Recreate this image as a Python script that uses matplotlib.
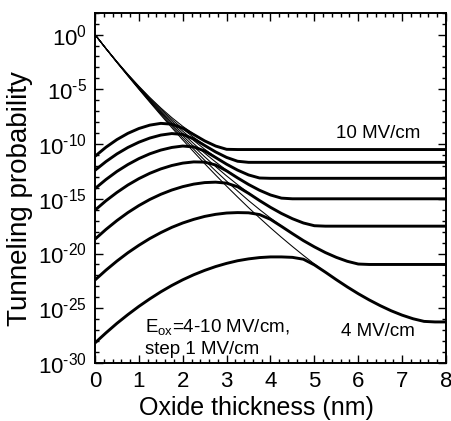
import numpy as np
import matplotlib
matplotlib.use('Agg')
import matplotlib.pyplot as plt
from matplotlib.ticker import FixedLocator, FuncFormatter, MultipleLocator

plt.rcParams['font.family'] = ['Liberation Sans', 'DejaVu Sans']
plt.rcParams['mathtext.fontset'] = 'custom'
plt.rcParams['mathtext.rm'] = 'Liberation Sans'
plt.rcParams['mathtext.it'] = 'Liberation Sans:italic'
plt.rcParams['mathtext.default'] = 'regular'

# Oxide thickness, nm (0 to 8 in 0.25 nm steps)
thickness = np.linspace(0, 8, 33)

# log10 of the tunneling probability, thick curves (full barrier)
logT_4 = [-28.17, -27.25, -26.38, -25.58, -24.83, -24.14, -23.50, -22.92, -22.40, -21.94,
          -21.54, -21.19, -20.90, -20.66, -20.49, -20.37, -20.31, -20.31, -20.35, -20.52,
          -21.04, -21.70, -22.39, -23.05, -23.67, -24.24, -24.76, -25.23, -25.63, -25.96,
          -26.20, -26.25, -26.25]
logT_5 = [-22.42, -21.52, -20.69, -19.93, -19.25, -18.63, -18.09, -17.61, -17.21, -16.88,
          -16.61, -16.42, -16.30, -16.26, -16.28, -16.44, -16.88, -17.52, -18.18, -18.82,
          -19.39, -19.91, -20.35, -20.71, -20.96] + [-21.0] * 8
logT_6 = [-18.69, -17.80, -16.99, -16.26, -15.62, -15.06, -14.59, -14.20, -13.89, -13.66,
          -13.52, -13.48, -13.57, -13.90, -14.50, -15.16, -15.78, -16.34, -16.82, -17.21,
          -17.46] + [-17.5] * 12
logT_7 = [-16.04, -15.18, -14.42, -13.74, -13.16, -12.67, -12.27, -11.96, -11.74, -11.63,
          -11.65, -11.91, -12.45, -13.09, -13.69, -14.22, -14.65, -14.94] + [-15.0] * 15
logT_8 = [-14.07, -13.24, -12.50, -11.87, -11.33, -10.89, -10.55, -10.31, -10.18, -10.26,
          -10.63, -11.23, -11.84, -12.38, -12.82, -13.10] + [-13.13] * 17
logT_9 = [-12.40, -11.60, -10.90, -10.31, -9.83, -9.45, -9.18, -9.04, -9.12, -9.53,
          -10.13, -10.72, -11.22, -11.57] + [-11.67] * 19
logT_10 = [-11.12, -10.29, -9.59, -9.02, -8.58, -8.27, -8.11, -8.18, -8.55, -9.13,
           -9.71, -10.18, -10.48] + [-10.5] * 20

# log10 of the direct tunneling probability, thin curves
logDT_4 = [0, -1.28, -2.54, -3.78, -4.99, -6.18, -7.35, -8.50, -9.62, -10.71,
           -11.79, -12.83, -13.85, -14.84, -15.81, -16.74, -17.65, -18.52, -19.36, -20.17,
           -20.95, -21.69, -22.39, -23.05, -23.67, -24.24, -24.76, -25.23, -25.63, -25.96,
           -26.20, -26.25, -26.25]
logDT_5 = [0, -1.28, -2.53, -3.75, -4.95, -6.11, -7.25, -8.35, -9.43, -10.47,
           -11.48, -12.45, -13.39, -14.29, -15.16, -15.98, -16.76, -17.49, -18.18, -18.81,
           -19.39, -19.91, -20.35, -20.71, -20.96] + [-21.0] * 8
logDT_6 = [0, -1.28, -2.52, -3.73, -4.90, -6.04, -7.14, -8.21, -9.23, -10.22,
           -11.16, -12.06, -12.91, -13.71, -14.46, -15.15, -15.78, -16.34, -16.82, -17.21,
           -17.46] + [-17.5] * 12
logDT_7 = [0, -1.27, -2.51, -3.70, -4.86, -5.97, -7.04, -8.06, -9.03, -9.96,
           -10.83, -11.64, -12.39, -13.08, -13.69, -14.22, -14.65, -14.94] + [-15.0] * 15
logDT_8 = [0, -1.27, -2.50, -3.68, -4.81, -5.89, -6.93, -7.90, -8.82, -9.68,
           -10.47, -11.19, -11.83, -12.38, -12.82, -13.10] + [-13.13] * 17
logDT_9 = [0, -1.27, -2.48, -3.65, -4.76, -5.82, -6.81, -7.74, -8.61, -9.39,
           -10.10, -10.71, -11.21, -11.57] + [-11.67] * 19
logDT_10 = [0, -1.26, -2.47, -3.62, -4.71, -5.74, -6.70, -7.58, -8.38, -9.09,
            -9.70, -10.18, -10.48] + [-10.5] * 20

thick_curves = [logT_4, logT_5, logT_6, logT_7, logT_8, logT_9, logT_10]
thin_curves = [logDT_4, logDT_5, logDT_6, logDT_7, logDT_8, logDT_9, logDT_10]

major_exp = [0, -5, -10, -15, -20, -25, -30]


def pow10_label(v, pos):
    e = int(round(np.log10(v)))
    if e < 0:
        return r'10$^{\text{-}%d}$' % (-e)
    return r'10$^{%d}$' % e


fig = plt.figure(figsize=(4.51, 4.21), dpi=100)
ax = fig.add_axes([0.2106, 0.1378, 0.7783, 0.832])

for lt in thin_curves:
    ax.plot(thickness, 10.0 ** np.array(lt), color='black', lw=0.75, zorder=2)
for lt in thick_curves:
    ax.plot(thickness, 10.0 ** np.array(lt), color='black', lw=2.1, zorder=3,
            solid_capstyle='butt')

ax.set_yscale('log')
ax.set_xlim(0, 8)
ax.set_ylim(1e-30, 1e2)

ax.xaxis.set_major_locator(MultipleLocator(1))
ax.xaxis.set_minor_locator(MultipleLocator(0.2))
ax.yaxis.set_major_locator(FixedLocator([10.0 ** e for e in major_exp]))
ax.yaxis.set_minor_locator(FixedLocator([10.0 ** e for e in range(-30, 3)]))
ax.yaxis.set_major_formatter(FuncFormatter(pow10_label))
ax.yaxis.set_minor_formatter(FuncFormatter(lambda v, pos: ''))

ax.tick_params(which='both', direction='in', top=True, right=True,
               width=1.0, labelsize=16, pad=6)
ax.tick_params(which='major', length=6)
ax.tick_params(which='minor', length=3)
for sp in ax.spines.values():
    sp.set_linewidth(1.4)

ax.set_xlabel('Oxide thickness (nm)', fontsize=18)
ax.xaxis.set_label_coords(0.459, -0.095)
ax.set_ylabel('Tunneling probability', fontsize=20)
ax.yaxis.set_label_coords(-0.178, 0.47)

ax.text(5.5, 10.0 ** -9.0, '10 MV/cm', fontsize=13.5, ha='left', va='center')
ax.text(5.6, 10.0 ** -27.1, '4 MV/cm', fontsize=13.5, ha='left', va='center')
ax.text(1.15, 10.0 ** -26.7, 'E$_{ox}$=4-10 MV/cm,', fontsize=13.5,
        ha='left', va='center')
ax.text(1.15, 10.0 ** -28.8, 'step 1 MV/cm', fontsize=13.5, ha='left', va='center')

fig.savefig('out.png', dpi=100)
